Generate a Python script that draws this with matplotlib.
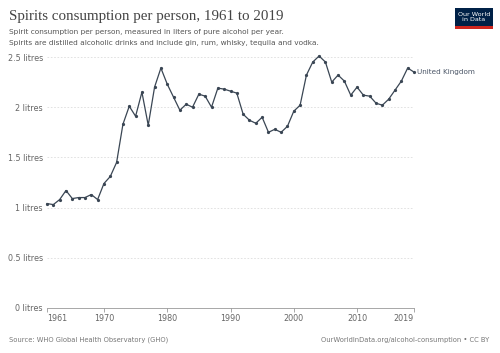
import numpy as np
import matplotlib.pyplot as plt
from matplotlib.patches import Rectangle

years = list(range(1961, 2020))
uk = [1.04, 1.03, 1.08, 1.17, 1.09, 1.10, 1.10, 1.13, 1.08, 1.24,
      1.31, 1.45, 1.83, 2.01, 1.91, 2.15, 1.82, 2.20, 2.39, 2.23,
      2.10, 1.97, 2.03, 2.00, 2.13, 2.11, 2.00, 2.19, 2.18, 2.16,
      2.14, 1.93, 1.87, 1.84, 1.90, 1.75, 1.78, 1.75, 1.81, 1.96,
      2.02, 2.32, 2.45, 2.51, 2.45, 2.25, 2.32, 2.26, 2.12, 2.20,
      2.12, 2.11, 2.04, 2.02, 2.08, 2.17, 2.26, 2.39, 2.35]
yticks = [0, 0.5, 1, 1.5, 2, 2.5]
ytick_labels = ["0 litres", "0.5 litres", "1 litres", "1.5 litres", "2 litres", "2.5 litres"]
xticks = [1961, 1970, 1980, 1990, 2000, 2010, 2019]

line_color = "#3a4654"
grey = "#666666"

fig = plt.figure(figsize=(5, 3.53), dpi=100)
ax = fig.add_axes([0.094, 0.1275, 0.734, 0.711])

ax.plot(years, uk, color=line_color, lw=0.9, marker="o", ms=1.3, clip_on=False, zorder=3)
ax.text(2019 + 0.5, uk[-1], "United Kingdom", color="#4a5566", fontsize=5.2,
        va="center", ha="left")

ax.set_xlim(1961, 2019)
ax.set_ylim(0, 2.5)
ax.set_yticks(yticks)
ax.set_yticklabels(ytick_labels)
ax.set_xticks(xticks)
ax.set_xticklabels([str(x) for x in xticks])
ax.grid(axis="y", color="#dddddd", linestyle=(0, (2, 2)), lw=0.6)
ax.tick_params(axis="y", length=0, labelsize=5.8, labelcolor=grey, pad=3)
ax.tick_params(axis="x", length=3, width=0.6, color="#999999", labelsize=5.8,
               labelcolor=grey, pad=1.5)
xl = ax.get_xticklabels()
xl[0].set_ha("left")
xl[-1].set_ha("right")
for s in ["top", "right", "left"]:
    ax.spines[s].set_visible(False)
ax.spines["bottom"].set_color("#999999")
ax.spines["bottom"].set_linewidth(0.6)

fig.text(0.018, 0.952, "Spirits consumption per person, 1961 to 2019",
         family="Liberation Serif", fontsize=10.8, color="#444444", va="center")
fig.text(0.018, 0.908, "Spirit consumption per person, measured in liters of pure alcohol per year.",
         fontsize=5.3, color="#555555", va="center")
fig.text(0.018, 0.879, "Spirits are distilled alcoholic drinks and include gin, rum, whisky, tequila and vodka.",
         fontsize=5.3, color="#555555", va="center")
fig.text(0.018, 0.037, "Source: WHO Global Health Observatory (GHO)",
         fontsize=4.9, color="#777777", va="center")
fig.text(0.978, 0.037, "OurWorldInData.org/alcohol-consumption \u2022 CC BY",
         fontsize=4.9, color="#777777", va="center", ha="right")

# logo
fig.patches.append(Rectangle((0.91, 0.918), 0.076, 0.06, transform=fig.transFigure,
                             facecolor="#002147", edgecolor="none"))
fig.patches.append(Rectangle((0.91, 0.918), 0.076, 0.008, transform=fig.transFigure,
                             facecolor="#ce261e", edgecolor="none"))
fig.text(0.948, 0.952, "Our World\nin Data", fontsize=4.6, color="white",
         ha="center", va="center", linespacing=1.0)

fig.savefig("out.png", dpi=100)
